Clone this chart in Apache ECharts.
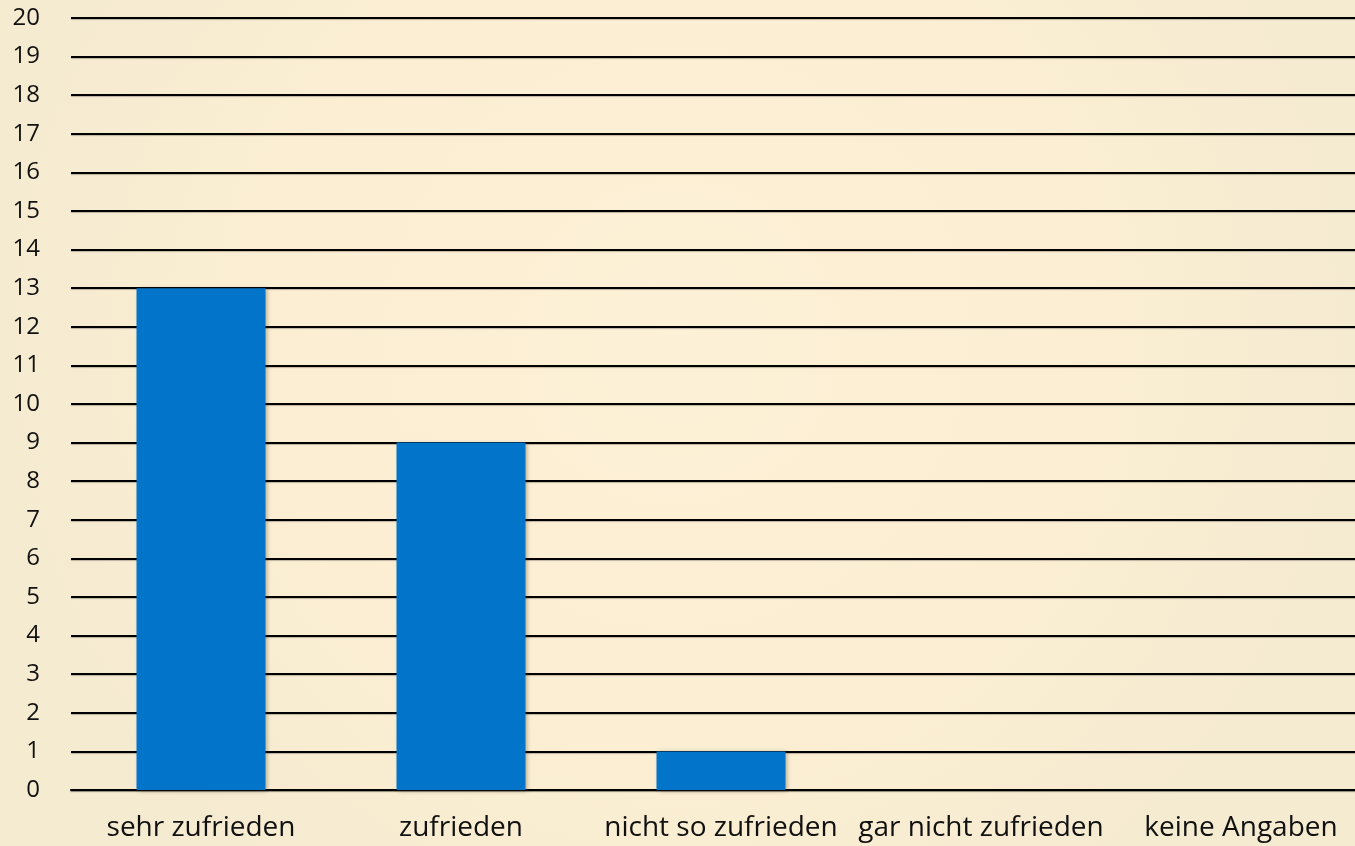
<!DOCTYPE html>
<html>
<head>
<meta charset="utf-8">
<script src="https://cdn.jsdelivr.net/npm/echarts@6/dist/echarts.min.js"></script>
<style>
html,body{margin:0;padding:0;background:#faeed4;}
#chart{width:1355px;height:846px;}
</style>
</head>
<body>
<div id="chart"></div>
<script>
var categories = ['sehr zufrieden', 'zufrieden', 'nicht so zufrieden', 'gar nicht zufrieden', 'keine Angaben'];
var counts = [13, 9, 1, 0, 0];

var myChart = echarts.init(document.getElementById('chart'));
var option = {
    backgroundColor: {
        type: 'radial', x: 0.5, y: 0.4, r: 0.8,
        colorStops: [
            {offset: 0, color: '#fcf0d6'},
            {offset: 0.6, color: '#fbeed3'},
            {offset: 1, color: '#f5ebd0'}
        ]
    },
    textStyle: {fontFamily: '"Open Sans", "Noto Sans", sans-serif'},
    grid: {left: 71, width: 1300, top: 18, height: 772, outerBoundsMode: 'none', containLabel: false},
    xAxis: {
        type: 'category',
        data: categories,
        axisLine: {show: true, lineStyle: {color: '#000', width: 2, shadowColor: 'rgba(0,0,0,0.25)', shadowOffsetY: 1, shadowBlur: 1}},
        axisTick: {show: false},
        axisLabel: {color: '#111', fontSize: 28, margin: 24, interval: 0}
    },
    yAxis: {
        type: 'value',
        min: 0,
        max: 20,
        interval: 1,
        axisLine: {show: false},
        axisTick: {show: false},
        axisLabel: {color: '#111', fontSize: 24, margin: 31},
        splitLine: {lineStyle: {color: '#000', width: 2, shadowColor: 'rgba(0,0,0,0.25)', shadowOffsetY: 1, shadowBlur: 1}}
    },
    series: [{
        type: 'bar',
        data: counts,
        barWidth: '49.6%',
        itemStyle: {
            color: '#0274c9',
            shadowColor: 'rgba(60,40,0,0.35)',
            shadowBlur: 4,
            shadowOffsetX: 2,
            shadowOffsetY: 1
        }
    }]
};
myChart.setOption(option);
</script>
</body>
</html>
